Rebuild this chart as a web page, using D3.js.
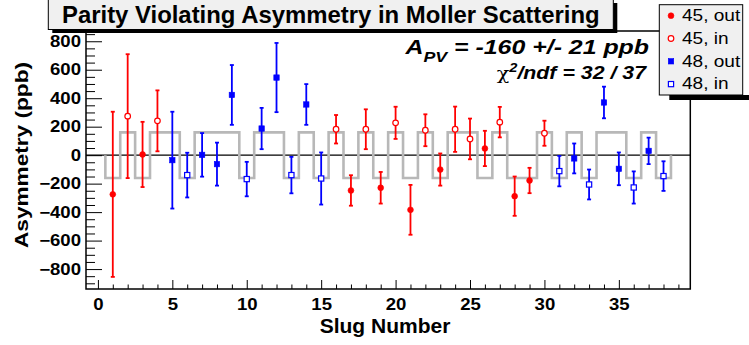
<!DOCTYPE html>
<html>
<head>
<meta charset="utf-8">
<script src="https://cdn.jsdelivr.net/npm/d3@7"></script>
<style>
  body { margin: 0; background: #fff; }
  svg { display: block; font-family: "Liberation Sans", Arial, Helvetica, sans-serif; }
</style>
</head>
<body>
<svg id="chart" width="749" height="345"></svg>
<script>
// ---- data -------------------------------------------------------------
const slugs = d3.range(1, 39);
const slugState = [
  "45, out", "45, in", "45, out", "45, in", "48, out", "48, in", "48, out", "48, out",
  "48, out", "48, in", "48, out", "48, out", "48, in", "48, out", "48, in", "45, in",
  "45, out", "45, in", "45, out", "45, in", "45, out", "45, in", "45, out", "45, in",
  "45, in", "45, out", "45, in", "45, out", "45, out", "45, in", "48, in", "48, out",
  "48, in", "48, out", "48, out", "48, in", "48, out", "48, in"
];
const asym = [
  -275, 274, 5, 241, -35, -140, 2, -63, 423, -168, 187, 545, -140, 356, -164, 182,
  -248, 182, -229, 227, -384, 175, -101, 182, 114, 47, 232, -288, -178, 154, -112, -23,
  -206, 370, -96, -227, 30, -147
];
const asymErr = [
  580, 435, 229, 214, 340, 157, 153, 151, 210, 121, 145, 243, 128, 143, 183, 100,
  107, 140, 111, 113, 175, 112, 113, 159, 143, 124, 107, 138, 89, 88, 107, 105,
  105, 111, 115, 113, 93, 104
];
const stateNames = ["45, out", "45, in", "48, out", "48, in"];
// sign of the measured asymmetry relative to the "45, out" configuration
const stateFlip = [1, -1, -1, 1];
const apvFit = -160, apvFitErr = 21, chi2 = 32, ndf = 37;
const yMajorTicks = d3.range(-800, 801, 200);
const yMinorTicks = d3.range(-900, 851, 50).filter(v => v % 200 !== 0);
const xMajorTicks = d3.range(0, 36, 5);
const xMinorTicks = d3.range(0, 40).filter(v => v % 5 !== 0);

const points = slugs.map((s, i) => ({
  slug: s, state: slugState[i], value: asym[i], err: asymErr[i]
}));

// ---- styles -----------------------------------------------------------
const RED = "#ff0000", BLUE = "#0000ff";
const style = {
  "45, out": { color: RED, shape: "circle", filled: true },
  "45, in":  { color: RED, shape: "circle", filled: false },
  "48, out": { color: BLUE, shape: "square", filled: true },
  "48, in":  { color: BLUE, shape: "square", filled: false }
};

const svg = d3.select("#chart");
const frame = { left: 86, right: 690.3, top: 31, bottom: 289 };

const x = d3.scaleLinear().domain([-0.8, 39.8]).range([frame.left, frame.right]);
const y = d3.scaleLinear().domain([-940, 872]).range([frame.bottom, frame.top]);

// stretch a text element horizontally (in its own frame) to a target width
function fitWidth(sel, width) {
  const w = sel.node().getBBox().width;
  sel.attr("transform", `scale(${width / w},1)`);
  return sel;
}

// ---- frame ------------------------------------------------------------
svg.append("rect")
  .attr("x", frame.left).attr("y", frame.top)
  .attr("width", frame.right - frame.left).attr("height", frame.bottom - frame.top)
  .attr("fill", "#fff");

// ---- axes -------------------------------------------------------------
const yAxisG = svg.append("g").attr("transform", `translate(${frame.left},0)`);
yAxisG.call(d3.axisLeft(y).tickValues(yMinorTicks).tickSizeInner(-9).tickSizeOuter(0).tickFormat(""));
yAxisG.call(g => g.select(".domain").remove());
const yMajG = svg.append("g").attr("transform", `translate(${frame.left},0)`);
yMajG.call(d3.axisLeft(y).tickValues(yMajorTicks).tickSizeInner(-16).tickSizeOuter(0).tickPadding(5));
yMajG.call(g => g.select(".domain").remove());

const xAxisG = svg.append("g").attr("transform", `translate(0,${frame.bottom})`);
xAxisG.call(d3.axisBottom(x).tickValues(xMinorTicks).tickSizeInner(-4.5).tickSizeOuter(0).tickFormat(""));
xAxisG.call(g => g.select(".domain").remove());
const xMajG = svg.append("g").attr("transform", `translate(0,${frame.bottom})`);
xMajG.call(d3.axisBottom(x).tickValues(xMajorTicks).tickSizeInner(-9).tickSizeOuter(0).tickPadding(10));
xMajG.call(g => g.select(".domain").remove());

svg.selectAll(".tick line").attr("stroke", "#000").attr("stroke-width", 1);

// tick labels: bold, slightly wide
function styleTickLabels(g, anchorX, anchorY) {
  g.selectAll(".tick text").each(function () {
    const t = d3.select(this);
    const tx = +t.attr("x") || 0, ty = +t.attr("y") || 0;
    t.attr("font-size", 16).attr("font-weight", "bold").attr("fill", "#000")
      .attr("font-family", "'Liberation Sans', Arial, sans-serif");
    t.attr("x", 0).attr("y", 0)
      .attr("transform", `translate(${tx},${ty}) scale(1.16,1)`);
  });
}
styleTickLabels(yMajG);
styleTickLabels(xMajG);

// frame outline
svg.append("rect")
  .attr("x", frame.left).attr("y", frame.top)
  .attr("width", frame.right - frame.left).attr("height", frame.bottom - frame.top)
  .attr("fill", "none").attr("stroke", "#000").attr("stroke-width", 1.5);

// zero line
svg.append("line")
  .attr("x1", frame.left).attr("x2", frame.right)
  .attr("y1", y(0)).attr("y2", y(0))
  .attr("stroke", "#000").attr("stroke-width", 1.2);

// ---- expected-sign step histogram --------------------------------------
const stepPts = [[slugs[0] - 0.5, 0]];
points.forEach(p => {
  const level = apvFit * stateFlip[stateNames.indexOf(p.state)];
  stepPts.push([p.slug - 0.5, level], [p.slug + 0.5, level]);
});
stepPts.push([slugs[slugs.length - 1] + 0.5, 0]);
svg.append("path")
  .attr("d", d3.line().x(d => x(d[0])).y(d => y(d[1]))(stepPts))
  .attr("fill", "none").attr("stroke", "#b8b8b8").attr("stroke-width", 2.6)
  .attr("stroke-linejoin", "miter");

// ---- error bars -------------------------------------------------------
const bars = svg.append("g").selectAll("g").data(points).join("g")
  .attr("stroke", d => style[d.state].color).attr("stroke-width", 1.8);
bars.append("line")
  .attr("x1", d => x(d.slug)).attr("x2", d => x(d.slug))
  .attr("y1", d => y(d.value - d.err)).attr("y2", d => y(d.value + d.err));
bars.append("line")
  .attr("x1", d => x(d.slug) - 2).attr("x2", d => x(d.slug) + 2)
  .attr("y1", d => y(d.value + d.err)).attr("y2", d => y(d.value + d.err));
bars.append("line")
  .attr("x1", d => x(d.slug) - 2).attr("x2", d => x(d.slug) + 2)
  .attr("y1", d => y(d.value - d.err)).attr("y2", d => y(d.value - d.err));

// ---- markers ----------------------------------------------------------
function drawMarker(sel, st, cx, cy) {
  if (st.shape === "circle") {
    sel.append("circle").attr("cx", cx).attr("cy", cy)
      .attr("r", st.filled ? 2.9 : 2.8)
      .attr("fill", st.filled ? st.color : "#fff")
      .attr("stroke", st.color).attr("stroke-width", st.filled ? 0.6 : 1.2);
  } else {
    const s = st.filled ? 5.4 : 5.2;
    sel.append("rect").attr("x", cx - s / 2).attr("y", cy - s / 2)
      .attr("width", s).attr("height", s)
      .attr("fill", st.filled ? st.color : "#fff")
      .attr("stroke", st.color).attr("stroke-width", st.filled ? 0.6 : 1.2);
  }
}
const markerG = svg.append("g");
points.forEach(p => drawMarker(markerG, style[p.state], x(p.slug), y(p.value)));

// ---- axis titles ------------------------------------------------------
const yTitle = svg.append("g").attr("transform", `translate(28,155) rotate(-90)`)
  .append("text").attr("text-anchor", "middle")
  .attr("font-size", 17.5).attr("font-weight", "bold").text("Asymmetry (ppb)");
fitWidth(yTitle, 186);

const xTitle = svg.append("g").attr("transform", `translate(385,332.7)`)
  .append("text").attr("text-anchor", "middle")
  .attr("font-size", 20).attr("font-weight", "bold").text("Slug Number");
fitWidth(xTitle, 131);

// ---- fit result -------------------------------------------------------
const apvText = svg.append("g").attr("transform", "translate(649,53.5)")
  .append("text").attr("text-anchor", "end")
  .attr("font-size", 21).attr("font-weight", "bold").attr("font-style", "italic");
apvText.append("tspan").text("A");
apvText.append("tspan").attr("font-size", 15).attr("dy", 8).text("PV");
apvText.append("tspan").attr("dy", -8).text(` = ${apvFit} +/- ${apvFitErr} ppb`);
fitWidth(apvText, 245);

const chiText = svg.append("g").attr("transform", "translate(646,79.3)")
  .append("text").attr("text-anchor", "end")
  .attr("font-size", 17.5).attr("font-weight", "bold").attr("font-style", "italic");
chiText.append("tspan").attr("font-weight", "normal").attr("font-style", "normal")
  .attr("font-family", "'DejaVu Serif', serif").attr("font-size", 17).text("χ");
chiText.append("tspan").attr("font-size", 12).attr("dy", -7).text("2");
chiText.append("tspan").attr("dy", 7).text(`/ndf = ${chi2} / ${ndf}`);
fitWidth(chiText, 151);

// ---- title box --------------------------------------------------------
svg.append("rect").attr("x", 52.3).attr("y", 3).attr("width", 565).attr("height", 30)
  .attr("fill", "#000");
svg.append("rect").attr("x", 48.3).attr("y", -1).attr("width", 565).attr("height", 30.5)
  .attr("fill", "#f0f0f0").attr("stroke", "#000").attr("stroke-width", 1);
const titleText = svg.append("g").attr("transform", "translate(330.8,23.3)")
  .append("text").attr("text-anchor", "middle")
  .attr("font-size", 23.5).attr("font-weight", "bold")
  .text("Parity Violating Asymmetry in Moller Scattering");
fitWidth(titleText, 538);

// ---- legend -----------------------------------------------------------
const leg = { x: 659.3, y: 4.7, w: 83.4, h: 90.3 };
svg.append("rect").attr("x", leg.x + 10).attr("y", leg.y + leg.h).attr("width", 90).attr("height", 5)
  .attr("fill", "#000");
svg.append("rect").attr("x", leg.x).attr("y", leg.y).attr("width", leg.w).attr("height", leg.h)
  .attr("fill", "#f0f0f0").attr("stroke", "#000").attr("stroke-width", 1);
stateNames.forEach((name, i) => {
  const cy = 15.7 + i * 22.8;
  drawMarker(svg, style[name], 671, cy);
  const t = svg.append("g").attr("transform", `translate(682,${cy + 5.3})`)
    .append("text").attr("font-size", 16).attr("fill", "#000").text(name);
  t.attr("transform", "scale(1.19,1)");
});
</script>
</body>
</html>
